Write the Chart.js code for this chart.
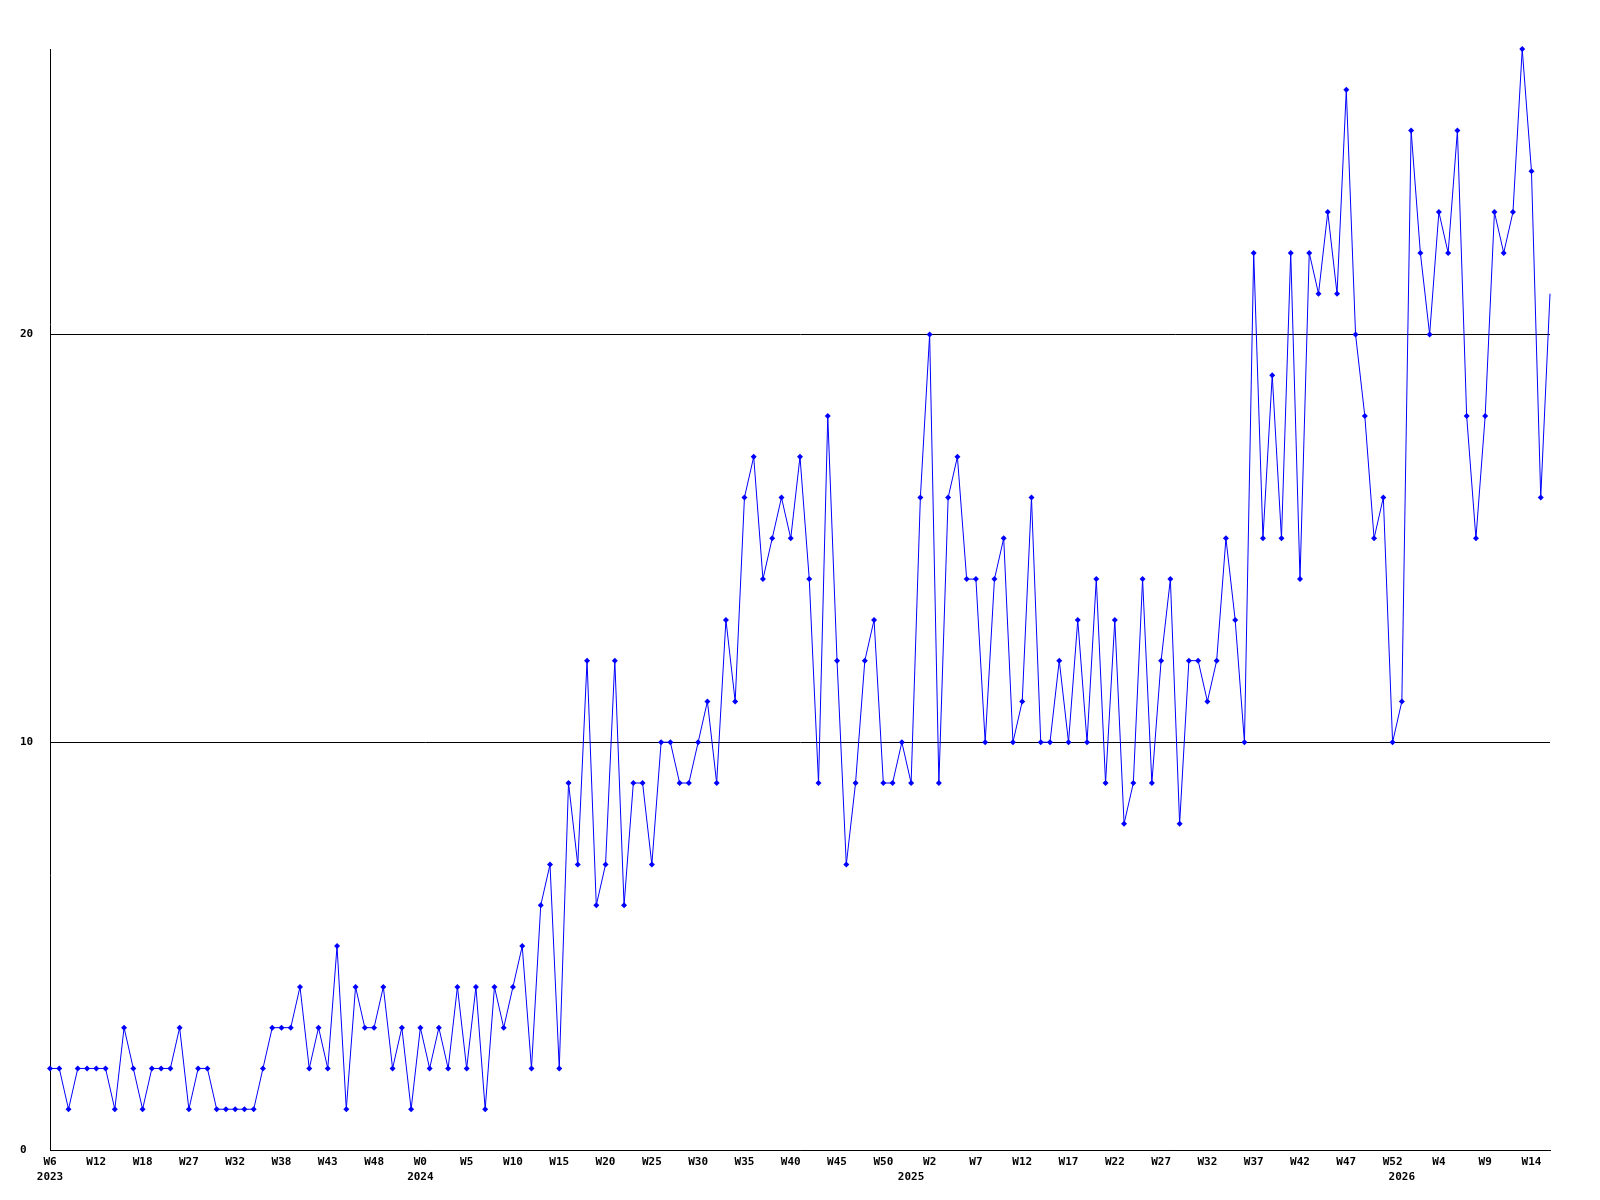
<!DOCTYPE html>
<html>
<head>
<meta charset="utf-8">
<title>Weekly count</title>
<script src="https://cdn.jsdelivr.net/npm/chart.js@4.4.1/dist/chart.umd.min.js"></script>
<style>
  html, body { margin: 0; padding: 0; background: #ffffff; }
  canvas { display: block; }
</style>
</head>
<body>
<canvas id="weekly" width="1600" height="1200"></canvas>
<script>
// One value per week, oldest first (last week is still in progress)
const weeklyCounts = [
  2, 2, 1, 2, 2, 2, 2, 1, 3, 2,
  1, 2, 2, 2, 3, 1, 2, 2, 1, 1,
  1, 1, 1, 2, 3, 3, 3, 4, 2, 3,
  2, 5, 1, 4, 3, 3, 4, 2, 3, 1,
  3, 2, 3, 2, 4, 2, 4, 1, 4, 3,
  4, 5, 2, 6, 7, 2, 9, 7, 12, 6,
  7, 12, 6, 9, 9, 7, 10, 10, 9, 9,
  10, 11, 9, 13, 11, 16, 17, 14, 15, 16,
  15, 17, 14, 9, 18, 12, 7, 9, 12, 13,
  9, 9, 10, 9, 16, 20, 9, 16, 17, 14,
  14, 10, 14, 15, 10, 11, 16, 10, 10, 12,
  10, 13, 10, 14, 9, 13, 8, 9, 14, 9,
  12, 14, 8, 12, 12, 11, 12, 15, 13, 10,
  22, 15, 19, 15, 22, 14, 22, 21, 23, 21,
  26, 20, 18, 15, 16, 10, 11, 25, 22, 20,
  23, 22, 25, 18, 15, 18, 23, 22, 23, 27,
  24, 16, 21
];

// Week labels, shown under every 5th point
const weekTicks = [
  'W6', 'W12', 'W18', 'W27', 'W32', 'W38', 'W43', 'W48',
  'W0', 'W5', 'W10', 'W15', 'W20', 'W25', 'W30', 'W35', 'W40', 'W45', 'W50',
  'W2', 'W7', 'W12', 'W17', 'W22', 'W27', 'W32', 'W37', 'W42', 'W47', 'W52',
  'W4', 'W9', 'W14'
];
const weekTickEvery = 5;

// Year labels and the point where each year starts
const yearLabels = ['2023', '2024', '2025', '2026'];
const yearStarts = [0, 40, 93, 146];

const yTicks = [0, 10, 20];
const yMax = 27;

const LINE = '#0000ff';
const INK = '#000000';

Chart.defaults.font.family = '"DejaVu Sans Mono", "Liberation Mono", monospace';
Chart.defaults.font.size = 11;
Chart.defaults.font.weight = 'bold';
Chart.defaults.color = INK;

function xLabel(index) {
  const week = index % weekTickEvery === 0 ? (weekTicks[index / weekTickEvery] || '') : '';
  const y = yearStarts.indexOf(index);
  if (y >= 0) return [week, yearLabels[y]];
  return week;
}

const lastIndex = weeklyCounts.length - 1;

new Chart(document.getElementById('weekly'), {
  type: 'line',
  data: {
    labels: weeklyCounts.map((_, i) => i),
    datasets: [{
      data: weeklyCounts,
      borderColor: LINE,
      backgroundColor: LINE,
      borderWidth: 1,
      tension: 0,
      fill: false,
      clip: false,
      pointStyle: 'rectRot',
      pointRadius: ctx => (ctx.dataIndex === lastIndex ? 0 : 3),
      pointBorderWidth: 0
    }]
  },
  options: {
    responsive: false,
    animation: false,
    devicePixelRatio: 1,
    layout: { padding: { top: 49, right: 50, bottom: 0, left: 20 } },
    plugins: {
      legend: { display: false },
      tooltip: { enabled: false }
    },
    scales: {
      x: {
        type: 'category',
        offset: false,
        grid: { display: false, drawTicks: false },
        border: { display: true, color: INK, width: 1 },
        ticks: {
          autoSkip: false,
          maxRotation: 0,
          minRotation: 0,
          padding: 5,
          font: { lineHeight: '15px' },
          callback: (value, index) => xLabel(index)
        },
        afterFit: scale => { scale.height = 50; }
      },
      y: {
        min: 0,
        max: yMax,
        grid: { color: INK, lineWidth: 1, drawTicks: false },
        border: { display: true, color: INK, width: 1 },
        ticks: { crossAlign: 'far', padding: 0 },
        afterBuildTicks: axis => { axis.ticks = yTicks.map(v => ({ value: v })); },
        afterFit: scale => { scale.width = 30; }
      }
    }
  }
});
</script>
</body>
</html>
